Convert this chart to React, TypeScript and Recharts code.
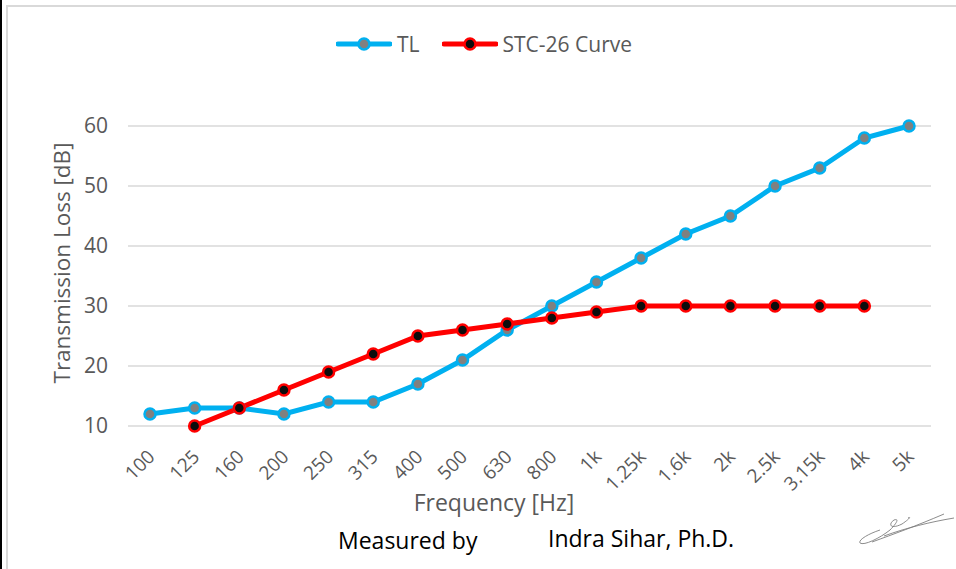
import { LineChart, Line, XAxis, YAxis, CartesianGrid, Legend } from "recharts";

const frequencies = ["100", "125", "160", "200", "250", "315", "400", "500", "630", "800", "1k", "1.25k", "1.6k", "2k", "2.5k", "3.15k", "4k", "5k"];
const tlValues = [12, 13, 13, 12, 14, 14, 17, 21, 26, 30, 34, 38, 42, 45, 50, 53, 58, 60];
const stcValues = [null, 10, 13, 16, 19, 22, 25, 26, 27, 28, 29, 30, 30, 30, 30, 30, 30, null];
const yTicks = [10, 20, 30, 40, 50, 60];

const FONT = "'Open Sans', 'Noto Sans', sans-serif";
const GREY_TEXT = "#595959";
const TL_BLUE = "#00b0f0";
const STC_RED = "#ff0000";

const data = frequencies.map((freq, i) => ({ freq, tl: tlValues[i], stc: stcValues[i] }));

function FreqTick({ x, y, payload }: any) {
  const px = x + 6;
  const py = y + 32;
  return (
    <text x={px} y={py} transform={`rotate(-45 ${px} ${py})`} textAnchor="end" fill={GREY_TEXT} fontSize={19} fontFamily={FONT}>
      {payload.value}
    </text>
  );
}

function LegendContent() {
  const items = [
    { label: "TL", line: TL_BLUE, fill: "#808080" },
    { label: "STC-26 Curve", line: STC_RED, fill: "#0d0d0d" },
  ];
  return (
    <div style={{ display: "flex", justifyContent: "center", alignItems: "center", gap: 22, fontFamily: FONT, fontSize: 21, color: GREY_TEXT, paddingLeft: 12 }}>
      {items.map((it) => (
        <div key={it.label} style={{ display: "flex", alignItems: "center" }}>
          <svg width={56} height={16}>
            <line x1={2} y1={8} x2={54} y2={8} stroke={it.line} strokeWidth={5} strokeLinecap="round" />
            <circle cx={28} cy={8} r={5.5} fill={it.fill} stroke={it.line} strokeWidth={2.5} />
          </svg>
          <span style={{ marginLeft: 5 }}>{it.label}</span>
        </div>
      ))}
    </div>
  );
}

export default function App() {
  return (
    <div style={{ position: "absolute", left: 0, top: 0, width: 956, height: 569, background: "#fff", overflow: "hidden" }}>
      <div style={{ position: "absolute", left: 0, top: 0, width: 2, height: 569, background: "#000" }} />
      <div style={{ position: "absolute", left: 6, top: 5, width: 960, height: 580, borderLeft: "2px solid #d9d9d9", borderTop: "2px solid #d9d9d9" }} />
      <LineChart width={956} height={569} data={data} margin={{ top: 126, right: 25, bottom: 0, left: 0 }} style={{ position: "absolute", left: 0, top: 0 }}>
        <CartesianGrid vertical={false} stroke="#d9d9d9" strokeWidth={1.5} />
        <XAxis
          dataKey="freq"
          height={143}
          padding={{ left: 22, right: 22 }}
          axisLine={false}
          tickLine={false}
          tickSize={0}
          tickMargin={0}
          interval={0}
          tick={<FreqTick />}
        />
        <YAxis
          width={128}
          domain={[10, 60]}
          ticks={yTicks}
          axisLine={false}
          tickLine={false}
          tickSize={0}
          tickMargin={20}
          tick={{ fill: GREY_TEXT, fontSize: 21, fontFamily: FONT }}
        />
        <Legend verticalAlign="middle" align="center" wrapperStyle={{ top: 30, left: 0, width: 956 }} content={<LegendContent />} />
        <Line
          dataKey="tl"
          name="TL"
          stroke={TL_BLUE}
          strokeWidth={5}
          dot={{ r: 5.5, fill: "#808080", stroke: TL_BLUE, strokeWidth: 2.5 }}
          activeDot={false}
          isAnimationActive={false}
        />
        <Line
          dataKey="stc"
          name="STC-26 Curve"
          stroke={STC_RED}
          strokeWidth={5}
          dot={{ r: 5.5, fill: "#0d0d0d", stroke: STC_RED, strokeWidth: 2.5 }}
          activeDot={false}
          isAnimationActive={false}
        />
      </LineChart>
      <div style={{ position: "absolute", left: 61, top: 263, transform: "translate(-50%, -50%) rotate(-90deg)", whiteSpace: "nowrap", fontFamily: FONT, fontSize: 22.5, color: GREY_TEXT }}>
        Transmission Loss [dB]
      </div>
      <div style={{ position: "absolute", left: 494, top: 502, transform: "translate(-50%, -50%)", whiteSpace: "nowrap", fontFamily: FONT, fontSize: 23, color: GREY_TEXT }}>
        Frequency [Hz]
      </div>
      <div style={{ position: "absolute", left: 338, top: 524, whiteSpace: "nowrap", fontFamily: FONT, fontSize: 23, color: "#000" }}>
        Measured by
      </div>
      <div style={{ position: "absolute", left: 548, top: 522, whiteSpace: "nowrap", fontFamily: FONT, fontSize: 23, color: "#000" }}>
        Indra Sihar, Ph.D.
      </div>
      <svg style={{ position: "absolute", left: 850, top: 500 }} width={106} height={50}>
        <path
          d="M30,30 C18,34 8,40 10,43 C14,46 30,38 40,30 C46,24 50,18 44,20 C38,24 40,30 52,24 C58,20 62,16 58,18 M34,36 C56,28 80,22 104,18 M22,42 C44,34 66,26 94,14"
          fill="none"
          stroke="#7f7f7f"
          strokeWidth={0.9}
        />
      </svg>
    </div>
  );
}
